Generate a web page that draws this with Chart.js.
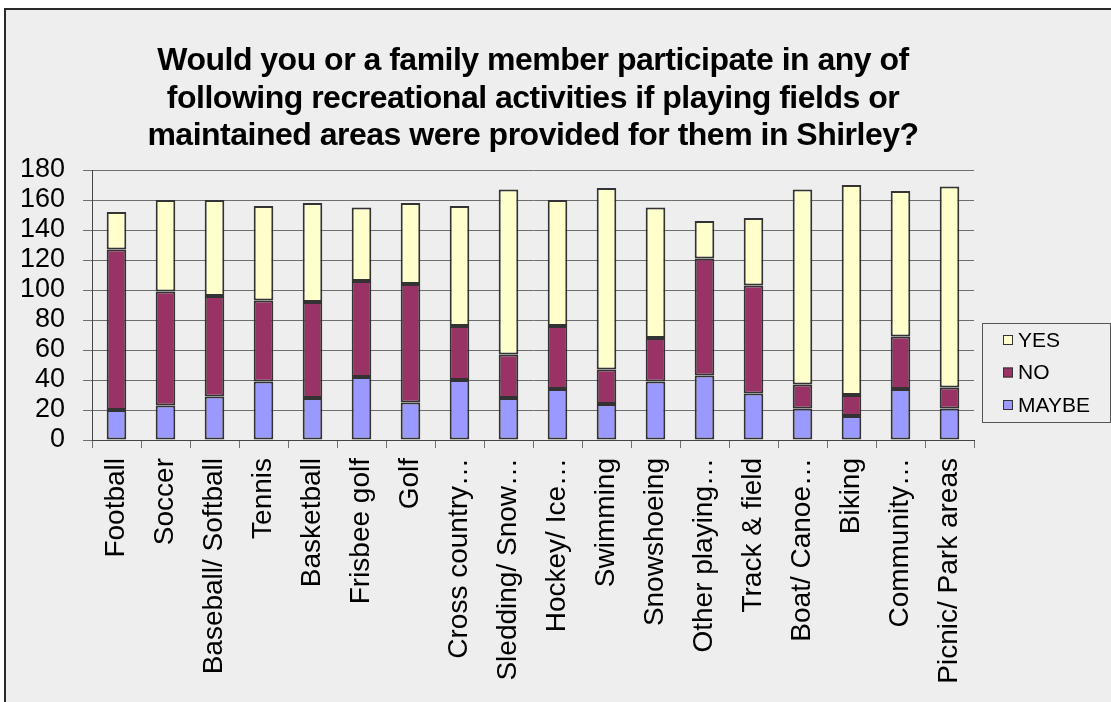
<!DOCTYPE html>
<html>
<head>
<meta charset="utf-8">
<title>Recreational activities survey</title>
<script src="https://cdn.jsdelivr.net/npm/chart.js@4"></script>
<style>
  html, body { margin: 0; padding: 0; background: #ffffff; }
  #wrap { position: absolute; left: 0; top: 0; width: 1111px; height: 702px; }
</style>
</head>
<body>
<div id="wrap"><canvas id="chart" width="1111" height="702"></canvas></div>
<script>
// Survey responses per activity
const categories = [
  "Football", "Soccer", "Baseball/ Softball", "Tennis", "Basketball",
  "Frisbee golf", "Golf", "Cross country\u2026", "Sledding/ Snow\u2026",
  "Hockey/ Ice\u2026", "Swimming", "Snowshoeing", "Other playing\u2026",
  "Track & field", "Boat/ Canoe\u2026", "Biking", "Community\u2026",
  "Picnic/ Park areas"
];
const maybeValues = [20, 23, 29, 39, 28, 42, 25, 40, 28, 34, 24, 39, 43, 31, 21, 16, 34, 21];
const noValues    = [107, 76, 67, 54, 64, 64, 79, 36, 29, 42, 23, 29, 78, 72, 16, 14, 35, 14];
const yesValues   = [25, 61, 64, 63, 66, 49, 54, 80, 110, 84, 121, 87, 25, 45, 130, 140, 97, 134];
const yTicks = [0, 20, 40, 60, 80, 100, 120, 140, 160, 180];

const titleLines = [
  "Would you or a family member participate in any of",
  "following recreational activities if playing fields or",
  "maintained areas were provided for them in Shirley?"
];

const FONT = "'Liberation Sans', Arial, sans-serif";
const EDGE = "#333333";
const GRID = "#6e6e6e";

// Frame, background and title
const framePlugin = {
  id: "frame",
  beforeDraw(chart) {
    const ctx = chart.ctx;
    ctx.save();
    ctx.fillStyle = "#eeeeee";
    ctx.fillRect(5, 9, chart.width - 5, chart.height - 9);
    ctx.strokeStyle = "#2a2a2a";
    ctx.lineWidth = 2;
    ctx.beginPath();
    ctx.moveTo(5, chart.height);
    ctx.lineTo(5, 9);
    ctx.lineTo(chart.width, 9);
    ctx.stroke();
    ctx.restore();
  },
  afterDraw(chart) {
    const ctx = chart.ctx;
    ctx.save();
    ctx.fillStyle = "#000000";
    ctx.font = "bold 32px " + FONT;
    if ("letterSpacing" in ctx) ctx.letterSpacing = "-0.5px";
    ctx.textAlign = "center";
    ctx.textBaseline = "alphabetic";
    const cx = (chart.chartArea.left + chart.chartArea.right) / 2;
    titleLines.forEach((line, i) => {
      ctx.fillText(line, cx, 70 + i * 37.5);
    });
    ctx.restore();
  }
};

// Boxed legend to the right of the plot, top item is the top stack segment
const boxLegendPlugin = {
  id: "boxLegend",
  afterDraw(chart) {
    const ctx = chart.ctx;
    const area = chart.chartArea;
    const x0 = area.right + 8, y0 = 323, w = chart.width - 1 - x0, h = 99;
    ctx.save();
    ctx.fillStyle = "#eeeeee";
    ctx.fillRect(x0, y0, w, h);
    ctx.strokeStyle = "#555555";
    ctx.lineWidth = 1;
    ctx.strokeRect(x0 + 0.5, y0 + 0.5, w, h);
    ctx.font = "21px " + FONT;
    ctx.textBaseline = "middle";
    ctx.textAlign = "left";
    const sets = chart.data.datasets.slice().reverse();
    sets.forEach((ds, i) => {
      const cy = y0 + 17 + i * 32.5;
      ctx.fillStyle = ds.backgroundColor;
      ctx.fillRect(x0 + 21, cy - 5, 10, 10);
      ctx.strokeStyle = EDGE;
      ctx.strokeRect(x0 + 21.5, cy - 4.5, 9, 9);
      ctx.fillStyle = "#000000";
      ctx.fillText(ds.label, x0 + 36, cy + 1);
    });
    ctx.restore();
  }
};

new Chart(document.getElementById("chart"), {
  type: "bar",
  data: {
    labels: categories,
    datasets: [
      { label: "MAYBE", data: maybeValues, backgroundColor: "#9999ff" },
      { label: "NO", data: noValues, backgroundColor: "#993366" },
      { label: "YES", data: yesValues, backgroundColor: "#ffffcc" }
    ].map(d => Object.assign(d, {
      borderColor: EDGE,
      borderWidth: 2,
      borderSkipped: false,
      categoryPercentage: 1.0,
      barPercentage: 0.4
    }))
  },
  options: {
    responsive: false,
    animation: false,
    layout: { padding: { top: 170, right: 137, left: 0, bottom: 0 } },
    plugins: {
      legend: { display: false },
      title: { display: false },
      tooltip: { enabled: false }
    },
    scales: {
      x: {
        stacked: true,
        offset: true,
        grid: {
          offset: true,
          drawOnChartArea: false,
          drawTicks: true,
          tickLength: 8,
          color: GRID,
          lineWidth: 1
        },
        border: { display: true, color: "#444444", width: 1 },
        ticks: {
          autoSkip: false,
          minRotation: 90,
          maxRotation: 90,
          padding: 10,
          color: "#000000",
          font: { family: FONT, size: 28 }
        },
        afterFit(scale) { scale.height = 262; }
      },
      y: {
        stacked: true,
        min: 0,
        max: 180,
        afterBuildTicks(scale) { scale.ticks = yTicks.map(v => ({ value: v })); },
        grid: {
          color: GRID,
          lineWidth: 1,
          drawTicks: true,
          tickLength: 9
        },
        border: { display: true, color: "#444444", width: 1 },
        ticks: {
          autoSkip: false,
          padding: 18,
          color: "#000000",
          font: { family: FONT, size: 27 }
        },
        afterFit(scale) { scale.width = 92; }
      }
    }
  },
  plugins: [framePlugin, boxLegendPlugin]
});
</script>
</body>
</html>
